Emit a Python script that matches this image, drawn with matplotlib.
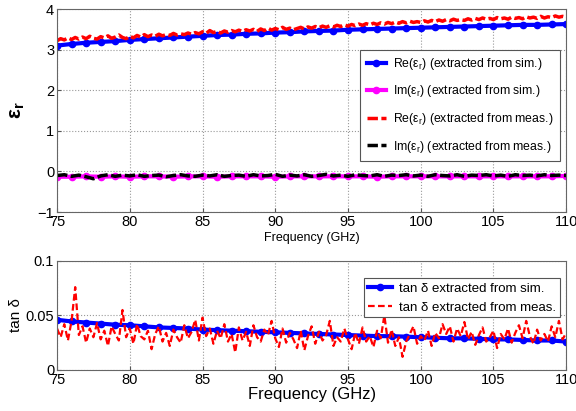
import numpy as np
import matplotlib
matplotlib.use("Agg")
import matplotlib.pyplot as plt

plt.rcParams['font.family'] = ['Liberation Sans', 'DejaVu Sans']
plt.rcParams['mathtext.fontset'] = 'custom'
plt.rcParams['mathtext.rm'] = 'Liberation Sans'
plt.rcParams['mathtext.it'] = 'Liberation Sans'
plt.rcParams['mathtext.bf'] = 'Liberation Sans:bold'

# ---------------- data ----------------
re_sim = [3.10, 3.14, 3.17, 3.19, 3.21, 3.24, 3.26, 3.28, 3.30, 3.32,
          3.34, 3.36, 3.37, 3.39, 3.40, 3.42, 3.43, 3.45, 3.46, 3.47,
          3.49, 3.50, 3.51, 3.52, 3.53, 3.54, 3.55, 3.56, 3.57, 3.58,
          3.59, 3.60, 3.61, 3.61, 3.62, 3.63]
im_sim = [-0.13, -0.13, -0.12, -0.13, -0.12, -0.13, -0.12, -0.12, -0.13, -0.12,
          -0.12, -0.13, -0.12, -0.12, -0.12, -0.13, -0.12, -0.12, -0.12, -0.12,
          -0.12, -0.12, -0.13, -0.12, -0.12, -0.12, -0.12, -0.12, -0.12, -0.12,
          -0.12, -0.12, -0.12, -0.12, -0.12, -0.11]
re_meas = [3.22, 3.27, 3.24, 3.29, 3.25, 3.30, 3.26, 3.31, 3.27, 3.33, 3.28, 3.26,
           3.32, 3.29, 3.34, 3.28, 3.31, 3.36, 3.30, 3.27, 3.33, 3.29, 3.35, 3.31,
           3.37, 3.32, 3.36, 3.33, 3.38, 3.34, 3.37, 3.35, 3.40, 3.36, 3.39, 3.37,
           3.41, 3.38, 3.42, 3.39, 3.44, 3.40, 3.47, 3.42, 3.45, 3.41, 3.46, 3.43,
           3.47, 3.44, 3.48, 3.45, 3.49, 3.46, 3.50, 3.45, 3.51, 3.47, 3.53, 3.48,
           3.52, 3.49, 3.55, 3.50, 3.53, 3.49, 3.52, 3.55, 3.51, 3.56, 3.53, 3.57,
           3.54, 3.58, 3.55, 3.59, 3.56, 3.60, 3.57, 3.61, 3.58, 3.62, 3.59, 3.63,
           3.60, 3.64, 3.61, 3.65, 3.62, 3.66, 3.63, 3.67, 3.64, 3.68, 3.65, 3.69,
           3.66, 3.70, 3.67, 3.69, 3.67, 3.71, 3.68, 3.72, 3.69, 3.73, 3.70, 3.74,
           3.71, 3.75, 3.72, 3.74, 3.72, 3.76, 3.73, 3.77, 3.74, 3.78, 3.75, 3.77,
           3.74, 3.79, 3.76, 3.78, 3.75, 3.80, 3.77, 3.79, 3.76, 3.81, 3.78, 3.80,
           3.77, 3.82, 3.78, 3.81, 3.79, 3.83, 3.80, 3.82, 3.80]
im_meas = [-0.10, -0.08, -0.12, -0.09, -0.13, -0.18, -0.11, -0.08, -0.12, -0.09,
           -0.11, -0.08, -0.12, -0.10, -0.09, -0.13, -0.10, -0.08, -0.11, -0.12,
           -0.09, -0.11, -0.08, -0.12, -0.10, -0.09, -0.12, -0.08, -0.11, -0.10,
           -0.07, -0.12, -0.09, -0.11, -0.08, -0.12, -0.10, -0.07, -0.11, -0.09,
           -0.12, -0.08, -0.10, -0.11, -0.08, -0.12, -0.09, -0.10, -0.08, -0.11,
           -0.09, -0.12, -0.08, -0.10, -0.11, -0.08, -0.12, -0.09, -0.10, -0.08,
           -0.11, -0.09, -0.12, -0.08, -0.10, -0.09, -0.11, -0.08, -0.10, -0.09,
           -0.10]
tan_sim = [0.046, 0.0445, 0.0435, 0.0425, 0.0415, 0.041, 0.040, 0.039, 0.0385, 0.038,
           0.037, 0.0365, 0.036, 0.0355, 0.035, 0.0345, 0.034, 0.0335, 0.033, 0.0325,
           0.032, 0.0315, 0.031, 0.031, 0.0305, 0.030, 0.0295, 0.029, 0.029, 0.0285,
           0.028, 0.028, 0.0275, 0.027, 0.027, 0.026]
tan_meas = [0.038, 0.030, 0.042, 0.027, 0.045, 0.076, 0.032, 0.040, 0.025, 0.038,
            0.030, 0.043, 0.028, 0.036, 0.022, 0.040, 0.033, 0.027, 0.055, 0.030,
            0.038, 0.024, 0.042, 0.031, 0.028, 0.036, 0.019, 0.033, 0.040, 0.026,
            0.034, 0.022, 0.037, 0.030, 0.025, 0.041, 0.029, 0.035, 0.046, 0.027,
            0.048, 0.031, 0.038, 0.024, 0.036, 0.029, 0.042, 0.026, 0.033, 0.016,
            0.039, 0.027, 0.035, 0.022, 0.041, 0.030, 0.026, 0.037, 0.032, 0.045,
            0.029, 0.021, 0.038, 0.025, 0.034, 0.028, 0.020, 0.036, 0.018, 0.031,
            0.040, 0.024, 0.035, 0.027, 0.032, 0.045, 0.022, 0.030, 0.026, 0.038,
            0.028, 0.019, 0.034, 0.024, 0.039, 0.026, 0.031, 0.021, 0.036, 0.029,
            0.050, 0.025, 0.037, 0.022, 0.030, 0.012, 0.026, 0.033, 0.040, 0.024,
            0.031, 0.027, 0.036, 0.022, 0.034, 0.029, 0.042, 0.033, 0.040, 0.026,
            0.038, 0.031, 0.044, 0.028, 0.035, 0.023, 0.032, 0.039, 0.026, 0.030,
            0.036, 0.020, 0.033, 0.028, 0.038, 0.025, 0.034, 0.041, 0.029, 0.045,
            0.031, 0.024, 0.037, 0.027, 0.033, 0.026, 0.040, 0.030, 0.045, 0.028,
            0.034]

f_start, f_stop = 75, 110
f_sim = np.linspace(f_start, f_stop, len(re_sim))
f_re_meas = np.linspace(f_start, f_stop, len(re_meas))
f_im_meas = np.linspace(f_start, f_stop, len(im_meas))
f_tan_meas = np.linspace(f_start, f_stop, len(tan_meas))

xticks = [75, 80, 85, 90, 95, 100, 105, 110]

# ---------------- figure ----------------
fig = plt.figure(figsize=(5.76, 4.11), dpi=100)
ax1 = fig.add_axes([0.099, 0.484, 0.884, 0.494])
ax2 = fig.add_axes([0.099, 0.100, 0.884, 0.265])

def style(ax):
    ax.set_xlim(f_start, f_stop)
    ax.set_xticks(xticks)
    ax.grid(True, linestyle=':', color='#999999', linewidth=0.8)
    ax.tick_params(direction='in', labelsize=10.5, length=3, color='#555555', pad=2)
    for s in ax.spines.values():
        s.set_color('#666666')
        s.set_linewidth(0.8)

# top
ax1.plot(f_sim, re_sim, '-o', color='#0000ff', lw=3, ms=4.5,
         label='Re(ε$_r$) (extracted from sim.)')
ax1.plot(f_sim, im_sim, '-o', color='#ff00ff', lw=3, ms=4.5,
         label='Im(ε$_r$) (extracted from sim.)')
ax1.plot(f_re_meas, re_meas, '--', color='#ff0000', lw=2.5,
         dashes=(3, 1), label='Re(ε$_r$) (extracted from meas.)')
ax1.plot(f_im_meas, im_meas, '--', color='#000000', lw=2.5,
         dashes=(3, 1), label='Im(ε$_r$) (extracted from meas.)')
style(ax1)
ax1.set_ylim(-1, 4)
ax1.set_yticks([-1, 0, 1, 2, 3, 4])
ax1.set_xlabel('Frequency (GHz)', fontsize=9, labelpad=2)
ax1.set_ylabel(r'ε$_\mathbf{r}$', fontsize=15, fontweight='bold', labelpad=8)
leg1 = ax1.legend(loc='upper right', bbox_to_anchor=(1.0, 0.83), fontsize=8.8,
                  fancybox=False, edgecolor='#555555', framealpha=1,
                  handlelength=1.6, borderpad=0.5, labelspacing=0.95,
                  handletextpad=0.6)
leg1.get_frame().set_linewidth(0.8)

# bottom
ax2.plot(f_sim, tan_sim, '-o', color='#0000ff', lw=3, ms=4.5,
         label='tan δ extracted from sim.')
ax2.plot(f_tan_meas, tan_meas, '--', color='#ff0000', lw=1.6,
         dashes=(3, 1.5), label='tan δ extracted from meas.')
style(ax2)
ax2.set_ylim(0, 0.1)
ax2.set_yticks([0, 0.05, 0.1])
ax2.set_yticklabels(['0', '0.05', '0.1'])
ax2.set_xlabel('Frequency (GHz)', fontsize=12, labelpad=0)
ax2.set_ylabel('tan δ', fontsize=11, labelpad=2)
leg2 = ax2.legend(loc='upper right', bbox_to_anchor=(1.0, 0.9), fontsize=9.5,
                  fancybox=False, edgecolor='#555555', framealpha=1,
                  handlelength=1.8, borderpad=0.3, labelspacing=0.5,
                  handletextpad=0.5)
leg2.get_frame().set_linewidth(0.8)

fig.savefig('out.png', dpi=100)
